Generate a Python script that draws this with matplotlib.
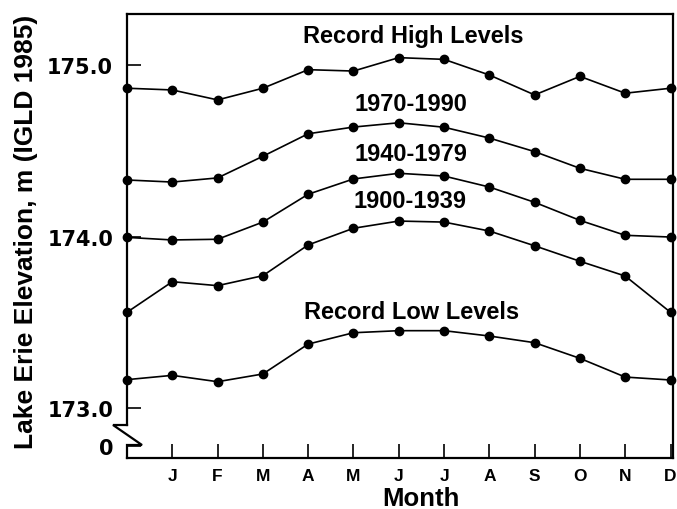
import matplotlib
matplotlib.use("Agg")
import matplotlib.pyplot as plt

months = ["", "J", "F", "M", "A", "M", "J", "J", "A", "S", "O", "N", "D"]
x_pos = list(range(13))

record_high = [174.863, 174.853, 174.795, 174.863, 174.971, 174.963, 175.041,
               175.031, 174.940, 174.824, 174.932, 174.834, 174.863]
avg_1970_1990 = [174.329, 174.317, 174.341, 174.467, 174.598, 174.637, 174.662,
                 174.636, 174.573, 174.494, 174.397, 174.333, 174.333]
avg_1940_1979 = [173.995, 173.980, 173.984, 174.084, 174.246, 174.335, 174.368,
                 174.352, 174.288, 174.199, 174.094, 174.007, 173.997]
avg_1900_1939 = [173.559, 173.737, 173.714, 173.772, 173.951, 174.048, 174.090,
                 174.084, 174.032, 173.946, 173.856, 173.770, 173.559]
record_low = [173.167, 173.192, 173.155, 173.200, 173.374, 173.440, 173.452,
              173.452, 173.421, 173.382, 173.291, 173.182, 173.165]

series = [record_high, avg_1970_1990, avg_1940_1979, avg_1900_1939, record_low]
series_labels = ["Record High Levels", "1970-1990", "1940-1979", "1900-1939",
                 "Record Low Levels"]
label_xy = [(6.33, 175.167), (6.26, 174.777), (6.26, 174.486), (6.25, 174.208),
            (6.29, 173.566)]

ytick_vals = [172.781, 173.0, 174.0, 175.0]
ytick_labels = ["0", "173.0", "174.0", "175.0"]

plt.rcParams['font.family'] = ['Liberation Sans', 'DejaVu Sans']
plt.rcParams['font.weight'] = 'bold'

fig = plt.figure(figsize=(6.77, 5.10), dpi=100)
ax = fig.add_axes([127/677, 51/510, 546/677, 444/510])

for vals in series:
    ax.plot(x_pos, vals, color='black', lw=1.2, marker='o', ms=6,
            clip_on=False, zorder=3)

for lab, (tx, ty) in zip(series_labels, label_xy):
    ax.text(tx, ty, lab, ha='center', va='center', fontsize=17,
            fontweight='bold')

ax.set_xlim(0, 12.055)
ax.set_ylim(172.711, 175.295)

ax.set_xticks(x_pos[1:])
ax.set_xticklabels(months[1:], fontsize=12.5, fontweight='bold')
ax.set_yticks(ytick_vals)
ax.set_yticklabels(ytick_labels, fontsize=15, fontweight='bold',
                   family='DejaVu Sans')
ax.tick_params(axis='both', direction='in', length=10, width=1.2, color='black')
ax.tick_params(axis='x', pad=7)
ax.tick_params(axis='y', pad=10)

for s in ax.spines.values():
    s.set_linewidth(1.6)
ax.spines['left'].set_bounds(172.711 + (459 - 426) / 171.8, 175.295)

# axis break drawn in axes-fraction coords
fx = lambda px: (px - 127) / 546
fy = lambda py: (459 - py) / 444
ax.plot([fx(127), fx(113), fx(142), fx(127), fx(127)],
        [fy(426), fy(426), fy(446), fy(446), fy(459)],
        transform=ax.transAxes, color='black', lw=1.6, clip_on=False,
        solid_joinstyle='miter')

ax.text(fx(421), fy(499), "Month", transform=ax.transAxes, ha='center',
        va='center', fontsize=18.5, fontweight='bold')
ax.text(fx(26), fy(232), "Lake Erie Elevation, m (IGLD 1985)",
        transform=ax.transAxes, ha='center', va='center', rotation=90,
        fontsize=19, fontweight='bold')

fig.savefig("out.png", dpi=100)
